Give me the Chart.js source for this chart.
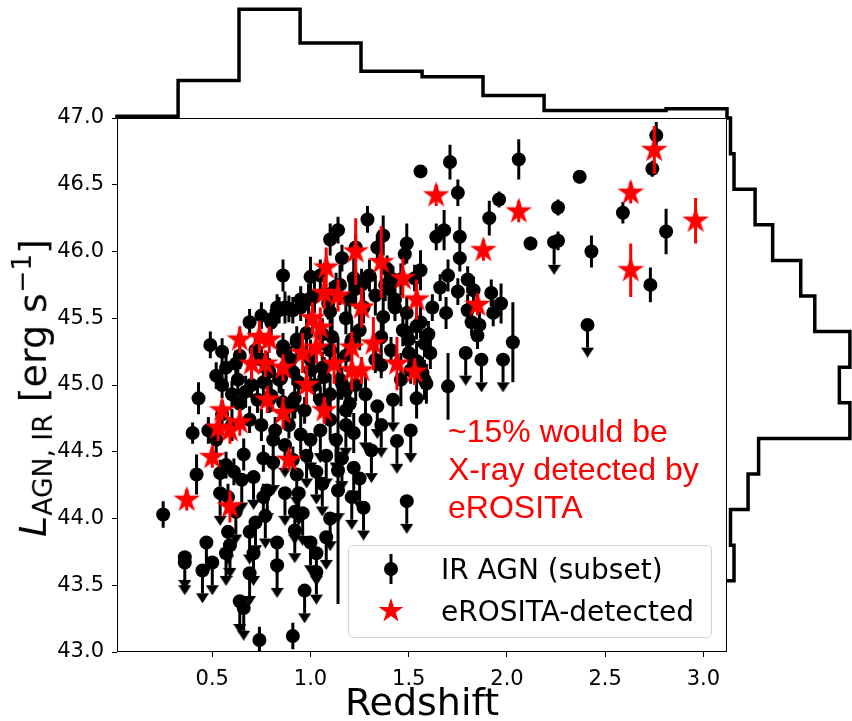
<!DOCTYPE html>
<html lang="en">
<head>
<meta charset="UTF-8" />
<title>IR AGN luminosity vs redshift</title>
<script src="https://cdn.jsdelivr.net/npm/chart.js"></script>
<style>
  body { margin: 0; background: #fff; }
  #wrap { position: relative; width: 852px; height: 721px; font-family: "DejaVu Sans", sans-serif; color: #000; }
  #wrap canvas { position: absolute; left: 0; top: 0; }
  #ylabel { position: absolute; left: 32px; top: 388px; transform: translate(-50%, -50%) rotate(-90deg);
            white-space: nowrap; font-size: 38px; }
  #ylabel sub { font-size: 0.7em; vertical-align: -0.25em; }
  #ylabel sup { font-size: 0.7em; vertical-align: 0.55em; }
  #note { position: absolute; left: 448px; top: 412px; color: #ff0000; font-family: "Liberation Sans", Arial, sans-serif;
          font-size: 32px; line-height: 38px; white-space: nowrap; }
  #legend { position: absolute; left: 348px; top: 545px; width: 362px; height: 91px; border: 1px solid #d4d4d4;
            border-radius: 5px; background: rgba(255, 255, 255, 0.8); }
  #legend .item { position: absolute; left: 0; width: 100%; height: 40px; font-size: 28px; }
  #legend .item canvas { position: absolute; top: 50%; transform: translate(-50%, -50%); }
  #legend .item span { position: absolute; left: 92px; top: 50%; transform: translateY(-50%); white-space: nowrap; }
</style>
</head>
<body>
<div id="wrap">
  <canvas id="main" width="852" height="721"></canvas>
  <canvas id="histTop" width="852" height="721"></canvas>
  <canvas id="histRight" width="852" height="721"></canvas>
  <div id="ylabel"><i>L</i><sub>AGN, IR</sub> [erg s<sup>−1</sup>]</div>
  <div id="note">~15% would be<br>X-ray detected by<br>eROSITA</div>
  <div id="legend">
    <div class="item" style="top:3px"><span>IR AGN (subset)</span></div>
    <div class="item" style="top:45px"><span>eROSITA-detected</span></div>
  </div>
</div>

<script>
// IR AGN with a measured luminosity (error bar)
const irDetZ = [
  2.76, 2.74, 2.37, 2.59, 2.26, 2.81, 2.26, 2.43, 2.73, 2.12,
  2.06, 1.96, 1.91, 1.71, 1.56, 1.75, 1.68, 1.64, 1.76, 1.76,
  1.29, 1.37, 1.49, 1.34, 1.48, 1.56, 1.70, 1.80, 1.75, 1.92,
  1.97, 2.03, 1.70, 1.69, 1.62, 1.56, 1.49, 1.58, 1.37, 1.36,
  1.58, 1.85, 1.80, 1.93, 1.54, 1.22, 1.14, 1.66, 1.83, 1.82,
  1.86, 1.60, 1.54, 1.42, 1.43, 1.43, 1.49, 1.47, 1.50, 1.50,
  1.61, 1.57, 1.59, 1.54, 1.51, 1.46, 1.33, 1.41, 1.36, 1.46,
  1.53, 1.40, 1.22, 1.23, 1.13, 0.86, 1.00, 1.16, 1.23, 0.99,
  0.83, 0.87, 0.91, 0.95, 0.81, 0.93, 0.86, 0.57, 0.62, 0.43,
  0.40, 0.42, 0.25, 0.74, 0.91, 0.76, 0.76, 0.91, 0.57, 0.54,
  0.58, 0.61, 0.66, 0.60, 0.67, 0.73, 0.80, 0.86, 0.92, 0.97,
  0.69, 0.75, 0.82, 0.89, 0.95, 1.10, 1.18, 1.05, 1.10, 1.18,
  1.02, 0.52, 0.48, 0.49, 0.55, 0.64, 0.72, 0.79, 0.85, 0.91,
  1.00, 1.06, 1.10, 1.18, 1.21, 1.25, 1.15, 1.23, 1.28, 0.70,
  0.63, 0.55, 0.52, 0.69, 0.75, 1.10, 1.18, 1.20, 1.26, 1.33,
  1.38, 1.30, 1.15, 1.10, 1.05, 1.10, 1.14, 1.02, 0.95, 0.89,
  0.84, 0.80, 1.09, 1.11, 1.06, 0.98, 0.93, 0.86, 0.90, 1.00,
  1.07, 1.16, 0.94, 0.84, 0.78, 0.75, 0.76, 0.79, 0.91, 1.07,
  1.20, 0.64, 0.55, 0.60, 1.39, 1.27
];
const irDetL = [
  46.87, 46.62, 46.56, 46.29, 46.33, 46.15, 46.08, 46.00, 45.75, 46.06,
  46.69, 46.39, 46.25, 46.67, 46.60, 46.44, 46.16, 46.11, 46.11, 45.95,
  46.24, 46.12, 46.06, 46.03, 45.98, 45.86, 45.82, 45.79, 45.70, 45.69,
  45.61, 45.32, 44.99, 45.54, 45.58, 45.47, 45.39, 45.31, 45.51, 45.15,
  45.04, 45.37, 45.56, 45.54, 44.90, 44.64, 44.36, 45.73, 45.71, 45.47,
  45.45, 45.38, 45.44, 45.79, 45.64, 45.58, 45.54, 45.41, 45.34, 45.24,
  45.24, 45.09, 45.01, 45.18, 45.11, 45.04, 45.19, 45.26, 45.36, 45.79,
  45.80, 45.72, 45.80, 45.72, 45.74, 45.82, 45.81, 45.95, 46.03, 45.64,
  45.58, 45.58, 45.56, 45.58, 45.50, 45.32, 45.25, 45.13, 45.16, 44.90,
  44.64, 44.33, 44.03, 43.09, 43.12, 44.16, 44.45, 44.44, 44.40, 44.34,
  44.16, 44.35, 44.48, 44.93, 44.95, 44.89, 44.92, 44.87, 44.90, 44.81,
  44.74, 44.70, 44.66, 44.70, 44.63, 44.74, 44.81, 44.89, 44.93, 44.96,
  45.00, 44.59, 44.66, 45.30, 45.25, 45.22, 45.26, 45.10, 45.05, 45.10,
  45.19, 45.13, 45.26, 45.22, 45.34, 45.41, 45.04, 45.00, 44.93, 45.00,
  45.04, 45.00, 45.07, 45.47, 45.52, 45.55, 45.50, 45.64, 45.75, 45.67,
  45.75, 45.82, 45.75, 45.67, 45.82, 46.09, 46.16, 45.66, 45.64, 45.57,
  45.56, 45.47, 45.61, 45.36, 45.38, 45.39, 45.34, 45.29, 45.19, 45.11,
  45.06, 45.01, 45.02, 45.04, 45.15, 45.19, 45.02, 44.89, 44.84, 44.84,
  44.86, 44.86, 44.78, 44.70, 45.87, 45.58
];
const irDetErr = [
  0.10, 0.06, 0.05, 0.08, 0.06, 0.17, 0.07, 0.12, 0.13, 0.05,
  0.15, 0.06, 0.13, 0.13, 0.03, 0.10, 0.15, 0.10, 0.15, 0.10,
  0.10, 0.15, 0.15, 0.10, 0.08, 0.15, 0.12, 0.10, 0.10, 0.10,
  0.15, 0.30, 0.25, 0.12, 0.10, 0.12, 0.15, 0.10, 0.20, 0.10,
  0.15, 0.10, 0.12, 0.10, 0.15, 0.15, 1.00, 0.10, 0.10, 0.10,
  0.10, 0.10, 0.10, 0.10, 0.12, 0.10, 0.12, 0.12, 0.10, 0.12,
  0.12, 0.12, 0.15, 0.15, 0.10, 0.20, 0.10, 0.10, 0.12, 0.12,
  0.10, 0.15, 0.15, 0.15, 0.10, 0.12, 0.15, 0.10, 0.10, 0.12,
  0.10, 0.12, 0.10, 0.10, 0.08, 0.10, 0.10, 0.10, 0.10, 0.12,
  0.08, 0.15, 0.10, 0.10, 0.10, 0.10, 0.10, 0.10, 0.10, 0.10,
  0.10, 0.10, 0.12, 0.10, 0.12, 0.10, 0.12, 0.10, 0.15, 0.10,
  0.10, 0.12, 0.10, 0.10, 0.15, 0.15, 0.12, 0.10, 0.15, 0.10,
  0.12, 0.10, 0.10, 0.10, 0.10, 0.10, 0.12, 0.10, 0.12, 0.10,
  0.15, 0.12, 0.15, 0.12, 0.15, 0.15, 0.15, 0.12, 0.15, 0.10,
  0.10, 0.10, 0.10, 0.10, 0.10, 0.15, 0.12, 0.15, 0.12, 0.15,
  0.12, 0.12, 0.15, 0.10, 0.12, 0.12, 0.10, 0.12, 0.10, 0.10,
  0.10, 0.10, 0.12, 0.15, 0.12, 0.12, 0.10, 0.10, 0.10, 0.12,
  0.15, 0.12, 0.10, 0.10, 0.10, 0.10, 0.10, 0.10, 0.10, 0.12,
  0.10, 0.10, 0.10, 0.12, 0.10, 0.12
];

// IR AGN with only an upper limit (arrow)
const irLimZ = [
  2.41, 2.24, 1.79, 1.87, 1.98, 1.34, 1.42, 1.51, 1.49, 1.22,
  1.25, 1.21, 1.27, 1.14, 0.36, 0.36, 0.47, 0.45, 0.50, 0.59,
  0.57, 0.69, 0.71, 0.69, 0.64, 0.66, 0.97, 0.83, 0.92, 1.00,
  1.03, 1.03, 0.77, 0.72, 0.92, 0.96, 0.87, 0.94, 0.78, 0.71,
  0.65, 0.81, 0.93, 1.03, 0.54, 1.00, 1.05, 1.13, 0.81, 0.87,
  1.31, 1.16, 1.08, 1.36, 1.44, 1.18, 1.28, 0.98, 1.06, 1.10,
  0.62, 0.58, 1.08, 0.83
];
const irLimL = [
  45.45, 46.07, 45.24, 45.19, 45.19, 44.84, 44.89, 44.66, 44.13, 44.38,
  44.30, 44.16, 44.08, 44.21, 43.71, 43.67, 43.82, 43.61, 43.67, 43.80,
  43.74, 43.90, 43.74, 43.59, 43.38, 43.33, 43.46, 43.82, 43.91, 43.82,
  43.74, 43.60, 44.02, 43.97, 44.05, 44.04, 44.19, 44.19, 44.21, 44.31,
  44.29, 44.42, 44.33, 44.35, 44.19, 44.59, 44.66, 44.59, 44.59, 44.55,
  44.51, 44.45, 44.47, 44.70, 44.58, 44.70, 44.74, 44.47, 44.26, 44.00,
  44.05, 43.90, 43.86, 43.65
];
const limArrowLen = 0.17;

// eROSITA-detected subset
const starZ = [
  0.37, 0.50, 0.55, 0.53, 0.59, 0.64, 0.59, 0.89, 0.64, 0.74,
  0.79, 0.70, 0.77, 0.86, 0.98, 0.96, 1.03, 1.12, 1.21, 1.01,
  1.05, 1.08, 1.07, 1.14, 1.23, 1.36, 1.26, 1.32, 1.44, 1.53,
  1.47, 1.54, 1.26, 1.85, 1.88, 1.64, 2.06, 2.63, 2.75, 2.96,
  2.63, 1.21, 0.78, 1.07, 0.86
];
const starL = [
  44.14, 44.46, 44.81, 44.68, 44.66, 44.72, 44.09, 44.44, 45.34, 45.36,
  45.34, 45.16, 45.16, 45.13, 45.00, 45.24, 45.28, 45.16, 45.11, 45.50,
  45.43, 45.88, 45.69, 45.67, 46.00, 45.92, 45.58, 45.31, 45.16, 45.10,
  45.80, 45.64, 45.11, 45.60, 46.01, 46.42, 46.30, 46.44, 46.76, 46.23,
  45.86, 45.28, 44.89, 44.81, 44.79
];
const starErr = [
  0.08, 0.08, 0.08, 0.10, 0.10, 0.10, 0.12, 0.08, 0.10, 0.12,
  0.10, 0.12, 0.10, 0.10, 0.15, 0.15, 0.12, 0.15, 0.15, 0.12,
  0.15, 0.15, 0.12, 0.12, 0.25, 0.27, 0.15, 0.20, 0.20, 0.10,
  0.15, 0.15, 0.10, 0.08, 0.08, 0.08, 0.08, 0.08, 0.18, 0.17,
  0.20, 0.12, 0.10, 0.10, 0.12
];

// marginal histograms
const zHistEdges = [0.015, 0.326, 0.636, 0.947, 1.257, 1.568, 1.878, 2.189, 2.499, 2.810, 3.12];
const zHistCounts = [1, 20, 58, 40, 25, 22, 12, 4, 4, 5];
const lHistEdges = [47.0, 46.733, 46.467, 46.2, 45.933, 45.667, 45.4, 45.133, 44.867, 44.6, 44.333, 44.067, 43.8, 43.533, 43.267, 43.0];
const lHistCounts = [1, 2, 8, 13, 21, 25, 35, 32, 35, 9, 6, 1, 2, 0, 0];

const xMin = 0.015, xMax = 3.12;
const yMin = 43.0, yMax = 47.0;

function starCanvas(r, color) {
  const s = Math.ceil(r * 2 + 2);
  const c = document.createElement("canvas");
  c.width = s; c.height = s;
  const g = c.getContext("2d");
  g.fillStyle = color;
  g.beginPath();
  for (let i = 0; i < 10; i++) {
    const rr = i % 2 === 0 ? r : r * 0.382;
    const a = -Math.PI / 2 + (i * Math.PI) / 5;
    const px = s / 2 + rr * Math.cos(a), py = s / 2 + rr * Math.sin(a);
    if (i === 0) g.moveTo(px, py); else g.lineTo(px, py);
  }
  g.closePath();
  g.fill();
  return c;
}

// down-pointing caret whose base sits on the image centre
function caretCanvas(w, h) {
  const c = document.createElement("canvas");
  c.width = w; c.height = 2 * h;
  const g = c.getContext("2d");
  g.fillStyle = "#000";
  g.beginPath();
  g.moveTo(0, h); g.lineTo(w, h); g.lineTo(w / 2, 2 * h);
  g.closePath();
  g.fill();
  return c;
}

function errMarkerCanvas() {
  const c = document.createElement("canvas");
  c.width = 20; c.height = 34;
  const g = c.getContext("2d");
  g.fillStyle = "#000";
  g.fillRect(8.5, 2, 3, 30);
  g.beginPath(); g.arc(10, 17, 7, 0, Math.PI * 2); g.fill();
  return c;
}

const starImg = starCanvas(14, "#ff0000");
const caretImg = caretCanvas(13, 10);

// segments: pairs of points separated by a gap
const detBars = [];
irDetZ.forEach((z, i) => {
  detBars.push({ x: z, y: irDetL[i] - irDetErr[i] }, { x: z, y: irDetL[i] + irDetErr[i] }, { x: z, y: null });
});
irLimZ.forEach((z, i) => {
  detBars.push({ x: z, y: irLimL[i] }, { x: z, y: irLimL[i] - limArrowLen }, { x: z, y: null });
});
const starBars = [];
starZ.forEach((z, i) => {
  starBars.push({ x: z, y: starL[i] - starErr[i] }, { x: z, y: starL[i] + starErr[i] }, { x: z, y: null });
});
const irPoints = irDetZ.map((z, i) => ({ x: z, y: irDetL[i] }))
  .concat(irLimZ.map((z, i) => ({ x: z, y: irLimL[i] })));
const caretPoints = irLimZ.map((z, i) => ({ x: z, y: irLimL[i] - limArrowLen }));
const starPoints = starZ.map((z, i) => ({ x: z, y: starL[i] }));

const framePlugin = {
  id: "frame",
  afterDatasetsDraw(chart) {
    const { ctx, chartArea: a } = chart;
    ctx.save();
    ctx.strokeStyle = "#000";
    ctx.lineWidth = 1;
    ctx.strokeRect(a.left + 0.5, a.top + 0.5, a.right - a.left - 1, a.bottom - a.top - 1);
    ctx.restore();
  },
};

const tickFont = { family: "DejaVu Sans", size: 21 };

new Chart(document.getElementById("main"), {
  type: "scatter",
  data: {
    datasets: [
      { type: "scatter", data: starPoints, pointStyle: starImg, pointRadius: 14, order: 0 },
      { type: "line", data: starBars, borderColor: "#ff0000", borderWidth: 3, pointRadius: 0, spanGaps: false, order: 1 },
      { type: "scatter", data: caretPoints, pointStyle: caretImg, pointRadius: 6, order: 2 },
      { type: "scatter", data: irPoints, pointRadius: 7, backgroundColor: "#000", borderWidth: 0, order: 3 },
      { type: "line", data: detBars, borderColor: "#000", borderWidth: 3, pointRadius: 0, spanGaps: false, order: 4 },
    ],
  },
  options: {
    responsive: false,
    animation: false,
    events: [],
    layout: { padding: { top: 118, right: 125, left: 0, bottom: 0 } },
    plugins: { legend: { display: false }, tooltip: { enabled: false } },
    scales: {
      x: {
        type: "linear",
        min: xMin,
        max: xMax,
        afterFit: (s) => { s.height = 69; },
        grid: { drawOnChartArea: false, drawTicks: true, tickLength: 5, color: "#000" },
        border: { display: false },
        ticks: {
          stepSize: 0.5,
          includeBounds: false,
          color: "#000",
          font: tickFont,
          padding: 10,
          maxRotation: 0,
          callback: (v) => v.toFixed(1),
        },
        title: { display: true, text: "Redshift", color: "#000", font: { family: "DejaVu Sans", size: 38, lineHeight: 0.85 }, padding: 0 },
      },
      y: {
        type: "linear",
        min: yMin,
        max: yMax,
        afterFit: (s) => { s.width = 117; },
        grid: { drawOnChartArea: false, drawTicks: true, tickLength: 5, color: "#000" },
        border: { display: false },
        ticks: { stepSize: 0.5, color: "#000", font: tickFont, padding: 8, callback: (v) => v.toFixed(1) },
      },
    },
  },
  plugins: [framePlugin],
});

// redshift histogram above the main panel
const topPts = [{ x: zHistEdges[0], y: 0 }];
zHistCounts.forEach((c, i) => topPts.push({ x: zHistEdges[i], y: c }));
topPts.push({ x: zHistEdges[zHistEdges.length - 1], y: 0 });

new Chart(document.getElementById("histTop"), {
  type: "line",
  data: { datasets: [{ data: topPts, stepped: true, borderColor: "#000", borderWidth: 3.5, borderJoinStyle: "miter", pointRadius: 0, fill: false, clip: false }] },
  options: {
    responsive: false,
    animation: false,
    events: [],
    layout: { padding: { left: 117, right: 125, top: 0, bottom: 603 } },
    plugins: { legend: { display: false }, tooltip: { enabled: false } },
    scales: {
      x: { type: "linear", display: false, min: xMin, max: xMax },
      y: { type: "linear", display: false, min: 0, max: 63 },
    },
  },
});

// luminosity histogram right of the main panel
let nBins = lHistCounts.length;
while (nBins > 0 && lHistCounts[nBins - 1] === 0) nBins--;
const rightPts = [{ x: 0, y: lHistEdges[0] }];
for (let i = 0; i < nBins; i++) rightPts.push({ x: lHistCounts[i], y: lHistEdges[i] });
rightPts.push({ x: 0, y: lHistEdges[nBins] });

new Chart(document.getElementById("histRight"), {
  type: "line",
  data: { datasets: [{ data: rightPts, stepped: "after", borderColor: "#000", borderWidth: 3.5, borderJoinStyle: "miter", pointRadius: 0, fill: false, clip: false }] },
  options: {
    responsive: false,
    animation: false,
    events: [],
    layout: { padding: { left: 727, right: 0, top: 118, bottom: 69 } },
    plugins: { legend: { display: false }, tooltip: { enabled: false } },
    scales: {
      x: { type: "linear", display: false, min: 0, max: 35.6 },
      y: { type: "linear", display: false, min: yMin, max: yMax },
    },
  },
});

// legend markers
const items = document.querySelectorAll("#legend .item");
const m1 = errMarkerCanvas();
m1.style.left = "42px";
items[0].prepend(m1);
const m2 = starCanvas(13, "#ff0000");
m2.style.left = "42px";
items[1].prepend(m2);
</script>
</body>
</html>
